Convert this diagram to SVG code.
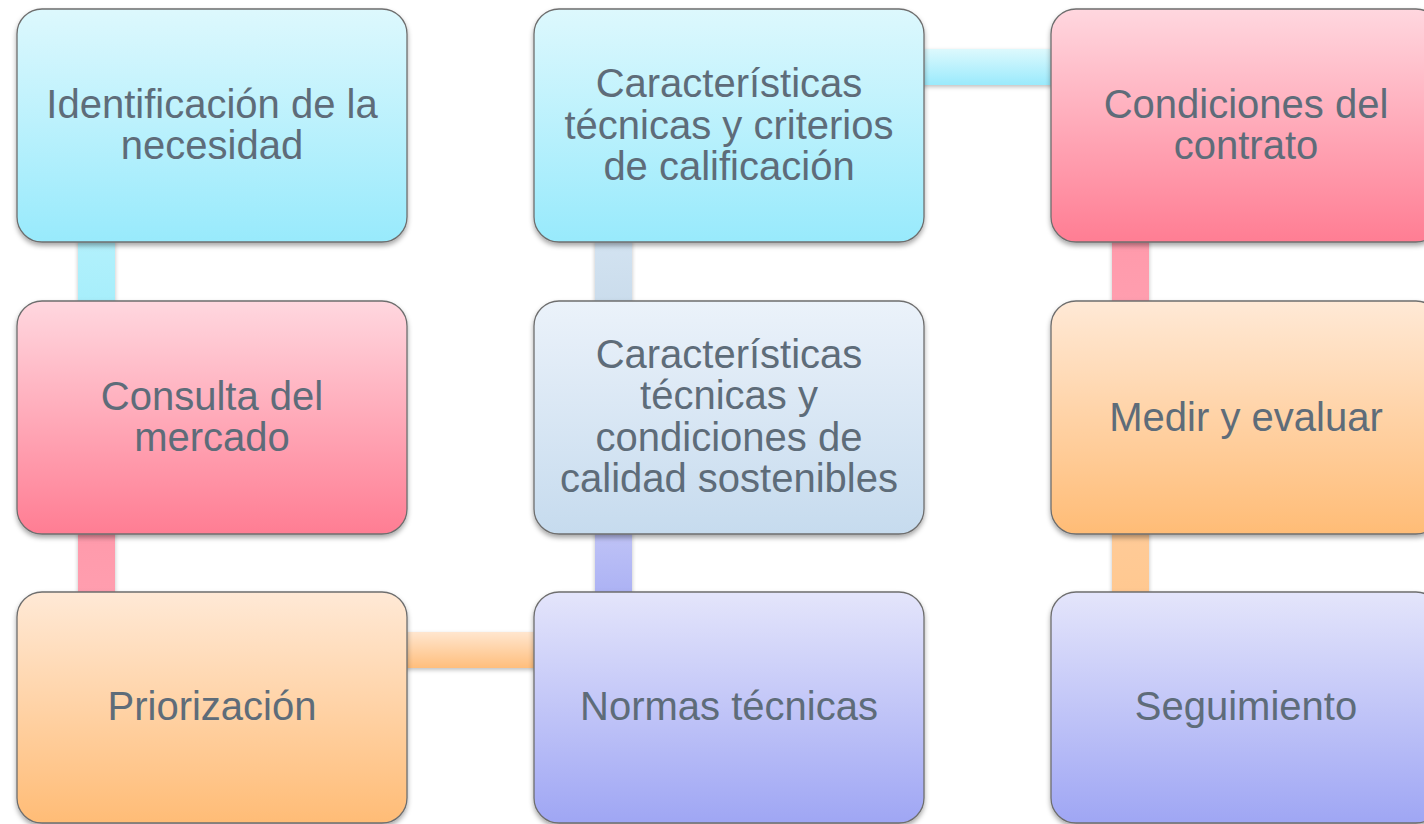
<svg xmlns="http://www.w3.org/2000/svg" width="1424" height="824" viewBox="0 0 1424 824">
<defs>
<linearGradient id="gCyan" x1="0" y1="0" x2="0" y2="1"><stop offset="0" stop-color="#DDF8FD"/><stop offset="1" stop-color="#98EAFC"/></linearGradient>
<linearGradient id="gPink" x1="0" y1="0" x2="0" y2="1"><stop offset="0" stop-color="#FFD7DF"/><stop offset="1" stop-color="#FF7D93"/></linearGradient>
<linearGradient id="gOrange" x1="0" y1="0" x2="0" y2="1"><stop offset="0" stop-color="#FFE9D6"/><stop offset="1" stop-color="#FFBC76"/></linearGradient>
<linearGradient id="gSlate" x1="0" y1="0" x2="0" y2="1"><stop offset="0" stop-color="#EBF2FA"/><stop offset="1" stop-color="#C6DBEE"/></linearGradient>
<linearGradient id="gLav" x1="0" y1="0" x2="0" y2="1"><stop offset="0" stop-color="#E4E5FB"/><stop offset="1" stop-color="#9FA6F4"/></linearGradient>
<linearGradient id="cCyanV" x1="0" y1="0" x2="0" y2="1"><stop offset="0" stop-color="#B3F1FC"/><stop offset="1" stop-color="#A6EEFB"/></linearGradient>
<linearGradient id="cPinkV" x1="0" y1="0" x2="0" y2="1"><stop offset="0" stop-color="#FF9AAB"/><stop offset="1" stop-color="#FF9EAF"/></linearGradient>
<linearGradient id="cOrangeV" x1="0" y1="0" x2="0" y2="1"><stop offset="0" stop-color="#FFCB98"/><stop offset="1" stop-color="#FFC890"/></linearGradient>
<linearGradient id="cLavV" x1="0" y1="0" x2="0" y2="1"><stop offset="0" stop-color="#C0C4F6"/><stop offset="1" stop-color="#ABB1F4"/></linearGradient>
<linearGradient id="cSlateV" x1="0" y1="0" x2="0" y2="1"><stop offset="0" stop-color="#D3E3F1"/><stop offset="1" stop-color="#CADCEC"/></linearGradient>
<linearGradient id="cCyanH" x1="0" y1="0" x2="0" y2="1"><stop offset="0" stop-color="#DDF9FD"/><stop offset="1" stop-color="#9AEAFC"/></linearGradient>
<linearGradient id="cOrangeH" x1="0" y1="0" x2="0" y2="1"><stop offset="0" stop-color="#FFE6CF"/><stop offset="1" stop-color="#FFBE7C"/></linearGradient>
<filter id="sh" x="-5%" y="-5%" width="110%" height="115%"><feDropShadow dx="0" dy="3" stdDeviation="2.5" flood-color="#000" flood-opacity="0.35"/></filter>
<filter id="shc" x="-10%" y="-20%" width="120%" height="150%"><feDropShadow dx="0" dy="2" stdDeviation="2" flood-color="#000" flood-opacity="0.25"/></filter>
</defs>
<style>
.node{stroke:#6E6E6E;stroke-width:1.3;filter:url(#sh)}
.t{font-family:"Liberation Sans",Arial,sans-serif;font-size:40px;fill:#5E6C79;text-anchor:middle}
.conn{filter:url(#shc)}
</style>
<rect width="1424" height="824" fill="#FFFFFF"/>
<g id="connectors">
<rect class="conn" x="78" y="238" width="37" height="67" fill="url(#cCyanV)"/>
<rect class="conn" x="78" y="530" width="37" height="66" fill="url(#cPinkV)"/>
<rect class="conn" x="403" y="632" width="135" height="36" fill="url(#cOrangeH)"/>
<rect class="conn" x="595" y="530" width="37" height="66" fill="url(#cLavV)"/>
<rect class="conn" x="595" y="238" width="37" height="67" fill="url(#cSlateV)"/>
<rect class="conn" x="920" y="49" width="135" height="36" fill="url(#cCyanH)"/>
<rect class="conn" x="1112" y="238" width="37" height="67" fill="url(#cPinkV)"/>
<rect class="conn" x="1112" y="530" width="37" height="66" fill="url(#cOrangeV)"/>
</g>
<g id="n1">
<rect class="node" x="17" y="9" width="390" height="233" rx="25" fill="url(#gCyan)"/>
<text class="t" x="212"><tspan x="212" y="117.5">Identificación de la</tspan><tspan x="212" y="159">necesidad</tspan></text>
</g>
<g id="n2">
<rect class="node" x="17" y="301" width="390" height="233" rx="25" fill="url(#gPink)"/>
<text class="t" x="212"><tspan x="212" y="409.5">Consulta del</tspan><tspan x="212" y="451">mercado</tspan></text>
</g>
<g id="n3">
<rect class="node" x="17" y="592" width="390" height="231" rx="25" fill="url(#gOrange)"/>
<text class="t" x="212" y="720">Priorización</text>
</g>
<g id="n4">
<rect class="node" x="534" y="592" width="390" height="231" rx="25" fill="url(#gLav)"/>
<text class="t" x="729" y="720">Normas técnicas</text>
</g>
<g id="n5">
<rect class="node" x="534" y="301" width="390" height="233" rx="25" fill="url(#gSlate)"/>
<text class="t" x="729"><tspan x="729" y="367.5">Características</tspan><tspan x="729" y="409">técnicas y</tspan><tspan x="729" y="450.5">condiciones de</tspan><tspan x="729" y="492">calidad sostenibles</tspan></text>
</g>
<g id="n6">
<rect class="node" x="534" y="9" width="390" height="233" rx="25" fill="url(#gCyan)"/>
<text class="t" x="729"><tspan x="729" y="97">Características</tspan><tspan x="729" y="138.5">técnicas y criterios</tspan><tspan x="729" y="180">de calificación</tspan></text>
</g>
<g id="n7">
<rect class="node" x="1051" y="9" width="390" height="233" rx="25" fill="url(#gPink)"/>
<text class="t" x="1246"><tspan x="1246" y="117.5">Condiciones del</tspan><tspan x="1246" y="159">contrato</tspan></text>
</g>
<g id="n8">
<rect class="node" x="1051" y="301" width="390" height="233" rx="25" fill="url(#gOrange)"/>
<text class="t" x="1246" y="430.5">Medir y evaluar</text>
</g>
<g id="n9">
<rect class="node" x="1051" y="592" width="390" height="231" rx="25" fill="url(#gLav)"/>
<text class="t" x="1246" y="720">Seguimiento</text>
</g>
</svg>
